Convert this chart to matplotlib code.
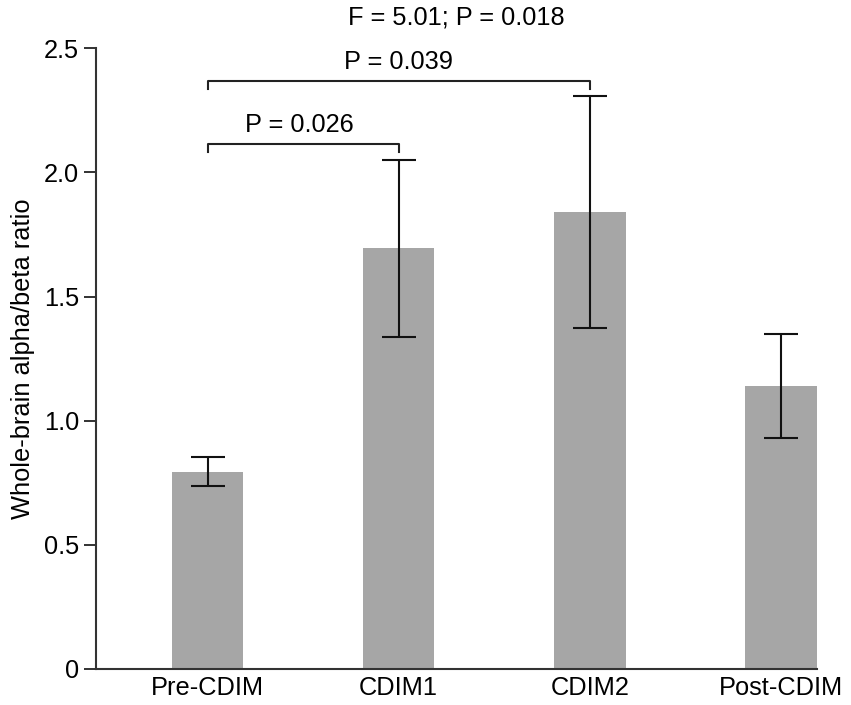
import matplotlib
matplotlib.use("Agg")
import matplotlib.pyplot as plt

categories = ["Pre-CDIM", "CDIM1", "CDIM2", "Post-CDIM"]
means = [0.795, 1.695, 1.840, 1.140]
errors = [0.059, 0.357, 0.466, 0.209]
yticks = [0, 0.5, 1.0, 1.5, 2.0, 2.5]
ytick_labels = ["0", "0.5", "1.0", "1.5", "2.0", "2.5"]
brackets = [(0, 1, 2.114, "P = 0.026"), (0, 2, 2.367, "P = 0.039")]
overall_text = "F = 5.01; P = 0.018"

plt.rcParams['font.family'] = ['Liberation Sans', 'DejaVu Sans']
FS = 18.3

fig = plt.figure(figsize=(8.51, 7.05), dpi=100)
ax = fig.add_axes([0.1125, 0.0511, 0.9597 - 0.1125, 0.9315 - 0.0511])

x = list(range(len(categories)))
ax.bar(x, means, width=0.375, color="#a6a6a6", zorder=1)
ax.errorbar(x, means, yerr=errors, fmt="none", ecolor="#111111",
            elinewidth=1.5, capsize=12.5, capthick=1.5, zorder=3)

ax.set_xlim(-0.585, 3.1875)
ax.set_ylim(0, 2.5)
ax.set_yticks(yticks)
ax.set_yticklabels(ytick_labels)
ax.set_xticks(x)
ax.set_xticklabels(categories)
ax.tick_params(axis="y", direction="out", length=9, width=1.3, labelsize=FS, pad=3, colors="#222222")
ax.tick_params(axis="x", length=0, labelsize=FS, pad=5)
for lab in ax.get_yticklabels():
    lab.set_color("black")
ax.set_ylabel("Whole-brain alpha/beta ratio", fontsize=FS, labelpad=6)

for s in ["top", "right"]:
    ax.spines[s].set_visible(False)
for s in ["left", "bottom"]:
    ax.spines[s].set_linewidth(1.5)
    ax.spines[s].set_color("#333333")

for (a, b, h, txt) in brackets:
    drop = 0.03
    ax.plot([a, a, b, b], [h - drop, h, h, h - drop], color="#222222",
            lw=1.5, clip_on=False, zorder=4)
    ax.text((a + b) / 2 - (0.02 if b == 1 else 0), h + 0.049, txt,
            ha="center", va="baseline", fontsize=FS)

ax.text(1.30, 2.597, overall_text, ha="center", va="baseline", fontsize=FS)

fig.savefig("out.png", dpi=100)
